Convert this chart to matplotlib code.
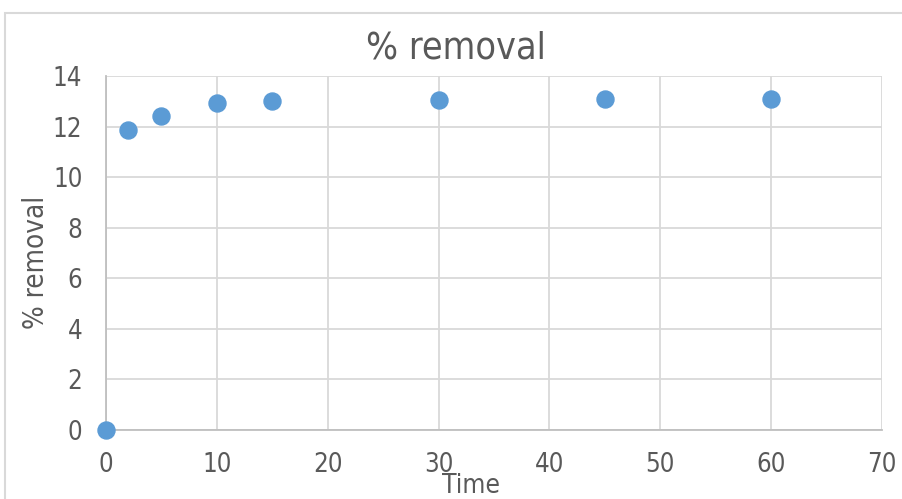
import matplotlib.pyplot as plt
from matplotlib.patches import Rectangle

# Data
time = [0, 2, 5, 10, 15, 30, 45, 60]
removal = [0, 11.85, 12.4, 12.95, 13.0, 13.05, 13.1, 13.1]

x_ticks = [0, 10, 20, 30, 40, 50, 60, 70]
y_ticks = [0, 2, 4, 6, 8, 10, 12, 14]

plt.rcParams['font.family'] = ['DejaVu Sans']
plt.rcParams['font.stretch'] = 'condensed'
text_color = '#595959'
grid_color = '#d9d9d9'

fig = plt.figure(figsize=(9.03, 4.99), dpi=100)
# outer chart border
fig.patches.append(Rectangle((5 / 903, -0.1), 1.0, (499 - 13) / 499 + 0.1,
                             transform=fig.transFigure, fill=False,
                             edgecolor='#d9d9d9', linewidth=1.5))

ax = fig.add_axes([106 / 903, 69 / 499, 776 / 903, 354 / 499])
ax.scatter(time, removal, s=150, color='#5b9bd5', zorder=3, clip_on=False)

ax.set_xlim(0, 70)
ax.set_ylim(0, 14)
ax.set_xticks(x_ticks)
ax.set_yticks(y_ticks)
ax.grid(True, color=grid_color, linewidth=1.3)
ax.set_axisbelow(True)
ax.tick_params(length=0, labelsize=18.5, labelcolor=text_color)
ax.tick_params(axis='x', pad=16)
ax.tick_params(axis='y', pad=17)

for side in ['top', 'right']:
    ax.spines[side].set_visible(False)
ax.spines['left'].set_color('#bfbfbf')
ax.spines['bottom'].set_color('#bfbfbf')
ax.spines['left'].set_linewidth(1.3)
ax.spines['bottom'].set_linewidth(1.3)

fig.text(0.505, 0.903, '% removal', ha='center', va='center',
         fontsize=27, color=text_color)
fig.text(0.040, 0.475, '% removal', ha='center', va='center',
         rotation=90, fontsize=20, color=text_color)
fig.text(0.522, 0.027, 'Time', ha='center', va='center',
         fontsize=19, color=text_color)

fig.savefig('out.png', dpi=100)
